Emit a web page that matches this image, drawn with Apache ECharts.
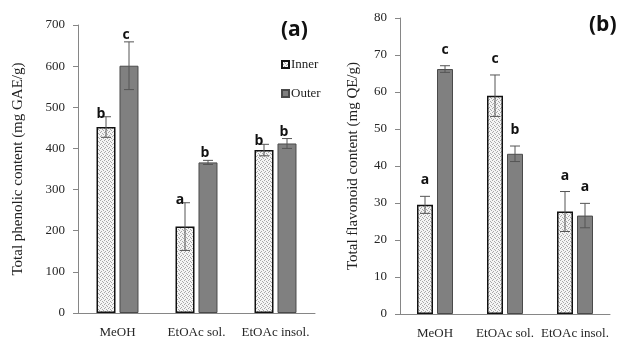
<!DOCTYPE html>
<html>
<head>
<meta charset="utf-8">
<script src="https://cdn.jsdelivr.net/npm/echarts@6/dist/echarts.min.js"></script>
<style>html,body{margin:0;background:#fff}#c{width:617px;height:344px}</style>
</head>
<body>
<div id="c"></div>
<script>
const categories = ['MeOH', 'EtOAc sol.', 'EtOAc insol.']
const seriesNames = ['Inner', 'Outer']

/* (a) total phenolic content, mg GAE/g */
const phenolInner = [452, 210, 396]
const phenolInnerErr = [25, 58, 14]
const phenolOuter = [601, 366, 412]
const phenolOuterErr = [58, 5, 12]
const phenolInnerSig = ['b', 'a', 'b']
const phenolOuterSig = ['c', 'b', 'b']

/* (b) total flavonoid content, mg QE/g */
const flavInner = [29.5, 59, 27.7]
const flavInnerErr = [2.3, 5.6, 5.4]
const flavOuter = [66.2, 43.3, 26.6]
const flavOuterErr = [0.9, 2.1, 3.3]
const flavInnerSig = ['a', 'c', 'a']
const flavOuterSig = ['c', 'b', 'a']

const SERIF = '"Liberation Serif", "DejaVu Serif", serif'
const AXIS = '#868686'

// stippled fill for the Inner bars
const dots = document.createElement('canvas')
dots.width = 4; dots.height = 4
const dc = dots.getContext('2d')
dc.fillStyle = '#f4f4f4'; dc.fillRect(0, 0, 4, 4)
dc.fillStyle = '#a8a8a8'
;[[0, 0], [2, 1], [1, 3], [3, 2]].forEach(([x, y]) => dc.fillRect(x, y, 1, 1))
const stipple = { image: dots, repeat: 'repeat' }

const innerStyle = { color: stipple, borderColor: '#111', borderWidth: 1.5 }
const outerStyle = { color: '#808080', borderColor: '#4a4a4a', borderWidth: 1 }

function xAxis(grid) {
  return {
    type: 'category', gridIndex: grid, data: categories,
    axisLine: { lineStyle: { color: AXIS } }, axisTick: { show: false },
    axisLabel: { color: '#262626', fontFamily: SERIF, fontSize: 13, margin: 13, interval: 0 },
  }
}
function yAxis(grid, max, interval, name, gap) {
  return {
    type: 'value', gridIndex: grid, min: 0, max, interval,
    name, nameLocation: 'middle', nameGap: gap,
    nameTextStyle: { color: '#222', fontFamily: SERIF, fontSize: 15 },
    axisLine: { show: true, lineStyle: { color: AXIS } },
    axisTick: { show: true, length: 5, lineStyle: { color: AXIS } },
    axisLabel: { color: '#262626', fontFamily: SERIF, fontSize: 13, margin: 13 },
    splitLine: { show: false },
  }
}

/* 误差棒 + 显著性字母 */
function errSeries(grid, vals, errs, sig, shift, lift, dx) {
  return {
    type: 'custom', xAxisIndex: grid, yAxisIndex: grid, z: 5, silent: true,
    data: vals.map((v, i) => [i, v, errs[i]]),
    encode: { x: 0, y: 1 },
    renderItem: (params, api) => {
      const i = api.value(0), v = api.value(1), e = api.value(2)
      const top = api.coord([i, v + e]), bot = api.coord([i, v - e])
      const x = top[0] + shift
      const ln = { stroke: '#555', lineWidth: 1 }
      return { type: 'group', children: [
        { type: 'line', shape: { x1: x, y1: top[1], x2: x, y2: bot[1] }, style: ln },
        { type: 'line', shape: { x1: x - 5, y1: top[1], x2: x + 5, y2: top[1] }, style: ln },
        { type: 'line', shape: { x1: x - 5, y1: bot[1], x2: x + 5, y2: bot[1] }, style: ln },
        { type: 'text', x: x + dx, y: top[1] - lift,
          style: { text: sig[params.dataIndex], fill: '#111', align: 'center', verticalAlign: 'bottom',
            font: 'bold 14px "Open Sans", sans-serif' } },
      ] }
    },
  }
}

function bars(grid, inner, outer, width, gap) {
  return [
    { name: seriesNames[0], type: 'bar', xAxisIndex: grid, yAxisIndex: grid, data: inner,
      barWidth: width, barGap: gap, itemStyle: innerStyle },
    { name: seriesNames[1], type: 'bar', xAxisIndex: grid, yAxisIndex: grid, data: outer,
      barWidth: width, barGap: gap, itemStyle: outerStyle },
  ]
}

const chart = echarts.init(document.getElementById('c'))
chart.setOption({
  animation: false,
  backgroundColor: '#fff',
  grid: [
    { left: 78, right: 302, top: 25, bottom: 31 },
    { left: 400, right: 7, top: 18, bottom: 30 },
  ],
  legend: {
    data: seriesNames, orient: 'vertical', left: 276, top: 53, icon: 'rect',
    itemWidth: 7, itemHeight: 7, itemGap: 16,
    textStyle: { color: '#222', fontFamily: SERIF, fontSize: 13, padding: [0, 0, 0, -3] },
  },
  graphic: [
    { type: 'text', left: 281, top: 20,
      style: { text: '(a)', font: 'bold 21px "Open Sans", sans-serif', fill: '#111' } },
    { type: 'text', left: 589, top: 15,
      style: { text: '(b)', font: 'bold 21px "Open Sans", sans-serif', fill: '#111' } },
  ],
  xAxis: [xAxis(0), xAxis(1)],
  yAxis: [
    yAxis(0, 700, 100, 'Total phenolic content (mg GAE/g)', 52),
    yAxis(1, 80, 10, 'Total flavonoid content (mg QE/g)', 39),
  ],
  series: [
    ...bars(0, phenolInner, phenolOuter, 19, '21%'),
    ...bars(1, flavInner, flavOuter, 16, '25%'),
    errSeries(0, phenolInner, phenolInnerErr, phenolInnerSig, -11.5, -4, -5),
    errSeries(0, phenolOuter, phenolOuterErr, phenolOuterSig, 11.5, 0, -3),
    errSeries(1, flavInner, flavInnerErr, flavInnerSig, -10, 9, 0),
    errSeries(1, flavOuter, flavOuterErr, flavOuterSig, 10, 9, 0),
  ],
})
</script>
</body>
</html>
